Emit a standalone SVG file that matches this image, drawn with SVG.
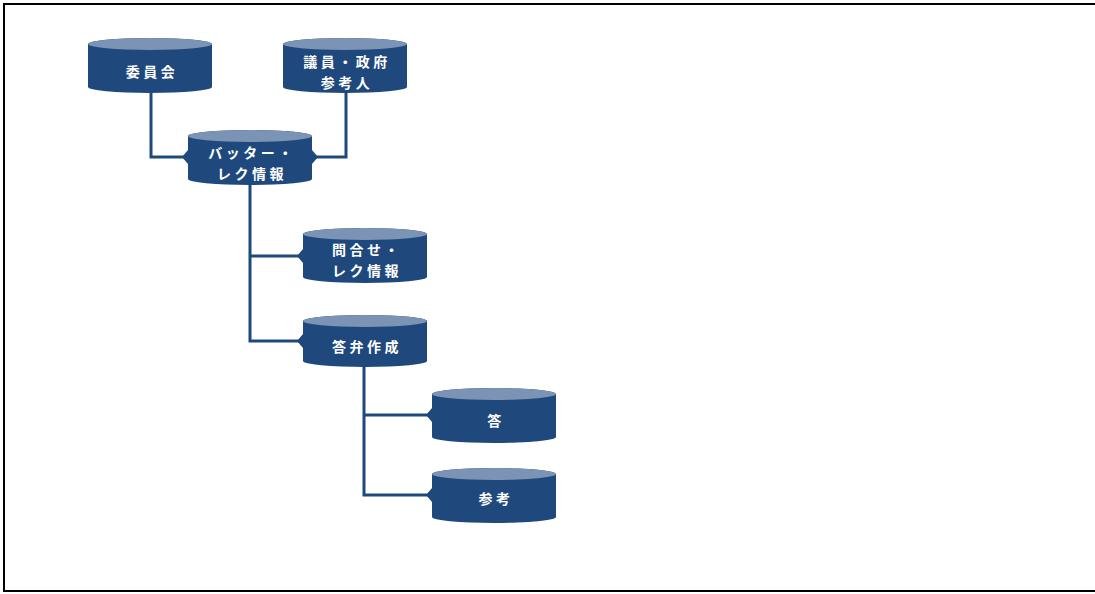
<svg xmlns="http://www.w3.org/2000/svg" width="1095" height="594" viewBox="0 0 1095 594">
<defs>
<style>
.body{fill:#1f497d;}
.top{fill:#7b93b4;}
.lbl{font-family:"Noto Sans CJK JP","Noto Sans CJK SC",sans-serif;font-weight:bold;font-size:14px;fill:#ffffff;text-anchor:middle;letter-spacing:3.5px;}
.conn{fill:none;stroke:#1f497d;stroke-width:3;}
.frame{stroke:#000;stroke-width:2;fill:none;}
</style>
</defs>
<rect width="1095" height="594" fill="#ffffff"/>
<path class="frame" d="M1095,4 H4 V591 H1095"/>
<g id="connectors">
<path class="conn" d="M151,92 V157 H186"/>
<path class="conn" d="M346,92 V157 H314"/>
<path class="conn" d="M250,184 V341 H301"/>
<path class="conn" d="M250,256 H301"/>
<path class="conn" d="M364,366 V495 H430"/>
<path class="conn" d="M364,415 H430"/>
</g>
<g id="n-iinkai">
<path class="body" d="M88,44 A62,6 0 0 1 212,44 V87 A62,6 0 0 1 88,87 Z"/>
<ellipse class="top" cx="150" cy="44" rx="62" ry="6"/>
<text class="lbl" x="152" y="77">委員会</text>
</g>
<g id="n-giin">
<path class="body" d="M283,44 A62,6 0 0 1 407,44 V87 A62,6 0 0 1 283,87 Z"/>
<ellipse class="top" cx="345" cy="44" rx="62" ry="6"/>
<text class="lbl" x="347" y="67">議員・政府</text>
<text class="lbl" x="347" y="88">参考人</text>
</g>
<g id="n-batter">
<path class="body" d="M188,136 A62,6 0 0 1 312,136 V150 L318,157 L312,164 V179 A62,6 0 0 1 188,179 V164 L182,157 L188,150 Z"/>
<ellipse class="top" cx="250" cy="136" rx="62" ry="6"/>
<text class="lbl" x="252" y="158">バッター・</text>
<text class="lbl" x="252" y="179">レク情報</text>
</g>
<g id="n-toiawase">
<path class="body" d="M303,234 A62,6 0 0 1 427,234 V277 A62,6 0 0 1 303,277 V263 L297,256 L303,249 Z"/>
<ellipse class="top" cx="365" cy="234" rx="62" ry="6"/>
<text class="lbl" x="367" y="255">問合せ・</text>
<text class="lbl" x="367" y="276">レク情報</text>
</g>
<g id="n-touben">
<path class="body" d="M303,321 A62,6 0 0 1 427,321 V361 A62,6 0 0 1 303,361 V348 L297,341 L303,334 Z"/>
<ellipse class="top" cx="365" cy="321" rx="62" ry="6"/>
<text class="lbl" x="367" y="352">答弁作成</text>
</g>
<g id="n-kotae">
<path class="body" d="M432,394 A62,6 0 0 1 556,394 V437 A62,6 0 0 1 432,437 V422 L426,415 L432,408 Z"/>
<ellipse class="top" cx="494" cy="394" rx="62" ry="6"/>
<text class="lbl" x="496" y="426">答</text>
</g>
<g id="n-sankou">
<path class="body" d="M432,474 A62,6 0 0 1 556,474 V517 A62,6 0 0 1 432,517 V502 L426,495 L432,488 Z"/>
<ellipse class="top" cx="494" cy="474" rx="62" ry="6"/>
<text class="lbl" x="496" y="504">参考</text>
</g>
</svg>
